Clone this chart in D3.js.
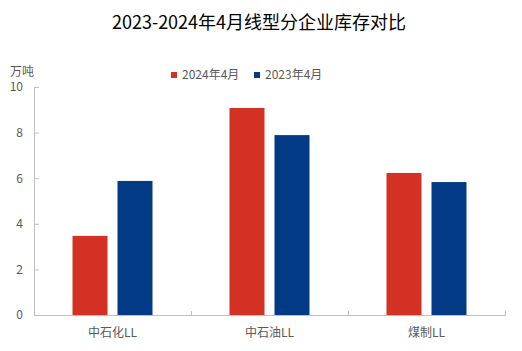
<!DOCTYPE html>
<html><head><meta charset="utf-8">
<script src="https://cdn.jsdelivr.net/npm/d3@7"></script>
<style>body{margin:0;background:#fff;}text{font-family:"Noto Sans CJK SC","Noto Sans",sans-serif;}</style>
</head><body><svg id="c" width="522" height="351"></svg>
<script>
const categories = ["中石化LL", "中石油LL", "煤制LL"];
const seriesNames = ["2024年4月", "2023年4月"];
const values2024 = [3.47, 9.08, 6.23];
const values2023 = [5.88, 7.89, 5.83];
const yTicks = [0, 2, 4, 6, 8, 10];
const colors = ["#D33124", "#033A85"];

const svg = d3.select("#c");
const m = {l: 34, r: 17, t: 87, b: 36};
const W = 522, H = 351;
const x = d3.scaleBand().domain(categories).range([m.l, W - m.r]);
const xs = d3.scaleOrdinal().domain([0, 1]).range([0, 45]);
const barW = 35, groupW = 80;
const y = d3.scaleLinear().domain([0, 10]).range([H - m.b, m.t]);
const gray = "#bfbfbf", txt = "#595959";

svg.append("text").attr("x", 259).attr("y", 29).attr("text-anchor", "middle")
  .attr("font-size", 18).attr("fill", "#000").text("2023-2024年4月线型分企业库存对比");
svg.append("text").attr("x", 10).attr("y", 76).attr("font-size", 12).attr("fill", txt).text("万吨");

// y axis
const ya = svg.append("g").attr("transform", `translate(${m.l},0)`)
  .call(d3.axisRight(y).tickValues(yTicks).tickSize(5).tickFormat(d3.format("d")));
ya.select(".domain").attr("stroke", gray).attr("d", `M5,${y(10)+0.5}H0.5V${y(0)}`);
ya.selectAll(".tick line").attr("stroke", gray);
ya.selectAll(".tick text").attr("x", -11).attr("text-anchor", "end").attr("font-size", 12).attr("fill", txt)
  .attr("font-family", "Liberation Sans, Arial, sans-serif");

// bars
const data = [values2024, values2023];
data.forEach((vals, si) => {
  svg.append("g").selectAll("rect").data(vals).join("rect")
    .attr("x", (d, i) => x(categories[i]) + (x.bandwidth() - groupW) / 2 + xs(si))
    .attr("width", barW)
    .attr("y", d => y(d)).attr("height", d => y(0) - y(d))
    .attr("fill", colors[si]);
});

// x axis
const xa = svg.append("g").attr("transform", `translate(0,${y(0)})`);
xa.append("line").attr("x1", m.l).attr("x2", W - m.r).attr("y1", 0.5).attr("y2", 0.5).attr("stroke", gray);
const bounds = categories.map(c => x(c) + x.bandwidth());
xa.selectAll(".tk").data(bounds).join("line").attr("class", "tk")
  .attr("x1", d => Math.round(d) + 0.5).attr("x2", d => Math.round(d) + 0.5).attr("y1", 0.5).attr("y2", -4).attr("stroke", gray);
xa.selectAll(".lb").data(categories).join("text").attr("class", "lb")
  .attr("x", d => x(d) + x.bandwidth() / 2).attr("y", 22).attr("text-anchor", "middle")
  .attr("font-size", 12).attr("fill", txt).text(d => d);

// legend
const lg = svg.append("g");
const lx = [171, 254];
seriesNames.forEach((n, i) => {
  lg.append("rect").attr("x", lx[i]).attr("y", 72).attr("width", 6).attr("height", 6).attr("fill", colors[i]);
  lg.append("text").attr("x", lx[i] + 11).attr("y", 79).attr("font-size", 12).attr("fill", txt).text(n);
});
</script></body></html>
